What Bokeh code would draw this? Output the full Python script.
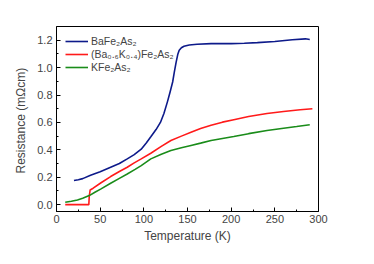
from bokeh.plotting import figure
from bokeh.models import Range1d, Legend, LegendItem, FixedTicker, PrintfTickFormatter
from bokeh.embed import file_html
from bokeh.resources import INLINE

# BaFe2As2
t_ba = [20, 25, 30, 39, 50, 62, 72, 81, 89, 97, 103, 108, 114, 119, 123, 127, 130, 133,
        135, 137, 139, 140.5, 143, 146, 152, 161, 177, 200, 215, 230, 250, 270, 285, 290]
r_ba = [0.176, 0.182, 0.19, 0.215, 0.24, 0.273, 0.3, 0.334, 0.365, 0.405, 0.452, 0.495, 0.548,
        0.6, 0.665, 0.75, 0.82, 0.895, 0.97, 1.04, 1.1, 1.127, 1.145, 1.156, 1.165, 1.17, 1.175,
        1.175, 1.178, 1.182, 1.19, 1.203, 1.21, 1.205]
# (Ba0.6K0.4)Fe2As2
t_bk = [10, 20, 30, 37, 37.5, 38.5, 42, 51, 62, 72, 81, 89, 97, 108, 120, 131, 143, 154, 165,
        177, 190, 203, 220, 241, 260, 279, 293]
r_bk = [0.0, 0.0, 0.0, 0.0, 0.06, 0.107, 0.12, 0.16, 0.205, 0.242, 0.273, 0.305, 0.334, 0.375,
        0.425, 0.468, 0.5, 0.528, 0.556, 0.58, 0.602, 0.62, 0.643, 0.665, 0.68, 0.692, 0.70]
# KFe2As2
t_k = [10, 17, 24, 30, 37.5, 44, 51, 62, 72, 81, 90, 97, 108, 120, 131, 143, 154, 165, 177,
       190, 203, 220, 241, 260, 275, 290]
r_k = [0.017, 0.025, 0.034, 0.046, 0.066, 0.09, 0.115, 0.156, 0.192, 0.224, 0.257, 0.285, 0.334,
       0.368, 0.395, 0.415, 0.432, 0.449, 0.468, 0.483, 0.497, 0.518, 0.541, 0.558, 0.57, 0.583]

labels = ["BaFe\u2082As\u2082", "(Ba\u2080.\u2086K\u2080.\u2084)Fe\u2082As\u2082", "KFe\u2082As\u2082"]
colors = ["#0d1a8a", "#ff1a1a", "#1a8c1a"]

p = figure(width=358, height=248, output_backend="svg", toolbar_location=None,
           x_range=Range1d(0, 300), y_range=Range1d(-0.05, 1.3),
           min_border_left=56, min_border_right=40, min_border_top=26, min_border_bottom=37)

r1 = p.line(t_ba, r_ba, line_color=colors[0], line_width=1.6)
r2 = p.line(t_bk, r_bk, line_color=colors[1], line_width=1.6)
r3 = p.line(t_k, r_k, line_color=colors[2], line_width=1.6)

legend = Legend(items=[LegendItem(label=labels[0], renderers=[r1]),
                       LegendItem(label=labels[1], renderers=[r2]),
                       LegendItem(label=labels[2], renderers=[r3])],
                location="top_left", border_line_alpha=0, background_fill_alpha=0,
                label_text_font="Liberation Sans", label_text_font_size="10.5px",
                glyph_width=23, glyph_height=12, spacing=1, padding=4, margin=5,
                label_standoff=3, label_height=12)
p.add_layout(legend)

p.grid.visible = False
p.outline_line_color = "black"
p.outline_line_width = 1
p.background_fill_color = "white"

for ax in (p.xaxis[0], p.yaxis[0]):
    ax.major_tick_in = 4
    ax.major_tick_out = 0
    ax.minor_tick_in = 2
    ax.minor_tick_out = 0
    ax.axis_line_color = "black"
    ax.major_label_text_font = "Liberation Sans"
    ax.major_label_text_font_size = "11px"
    ax.axis_label_text_font = "Liberation Sans"
    ax.axis_label_text_font_size = "12px"
    ax.axis_label_text_font_style = "normal"

p.xaxis.ticker = FixedTicker(ticks=[0, 50, 100, 150, 200, 250, 300],
                             minor_ticks=[25, 75, 125, 175, 225, 275])
p.yaxis.ticker = FixedTicker(ticks=[0.0, 0.2, 0.4, 0.6, 0.8, 1.0, 1.2],
                             minor_ticks=[0.1, 0.3, 0.5, 0.7, 0.9, 1.1])
p.yaxis.formatter = PrintfTickFormatter(format="%.1f")
p.xaxis.axis_label = "Temperature (K)"
p.yaxis.axis_label = "Resistance  (m\u03a9cm)"
p.xaxis.major_label_standoff = 3
p.yaxis.major_label_standoff = 4
p.xaxis.axis_label_standoff = 3
p.yaxis.axis_label_standoff = 6

open("out.html", "w").write(file_html(p, INLINE))
